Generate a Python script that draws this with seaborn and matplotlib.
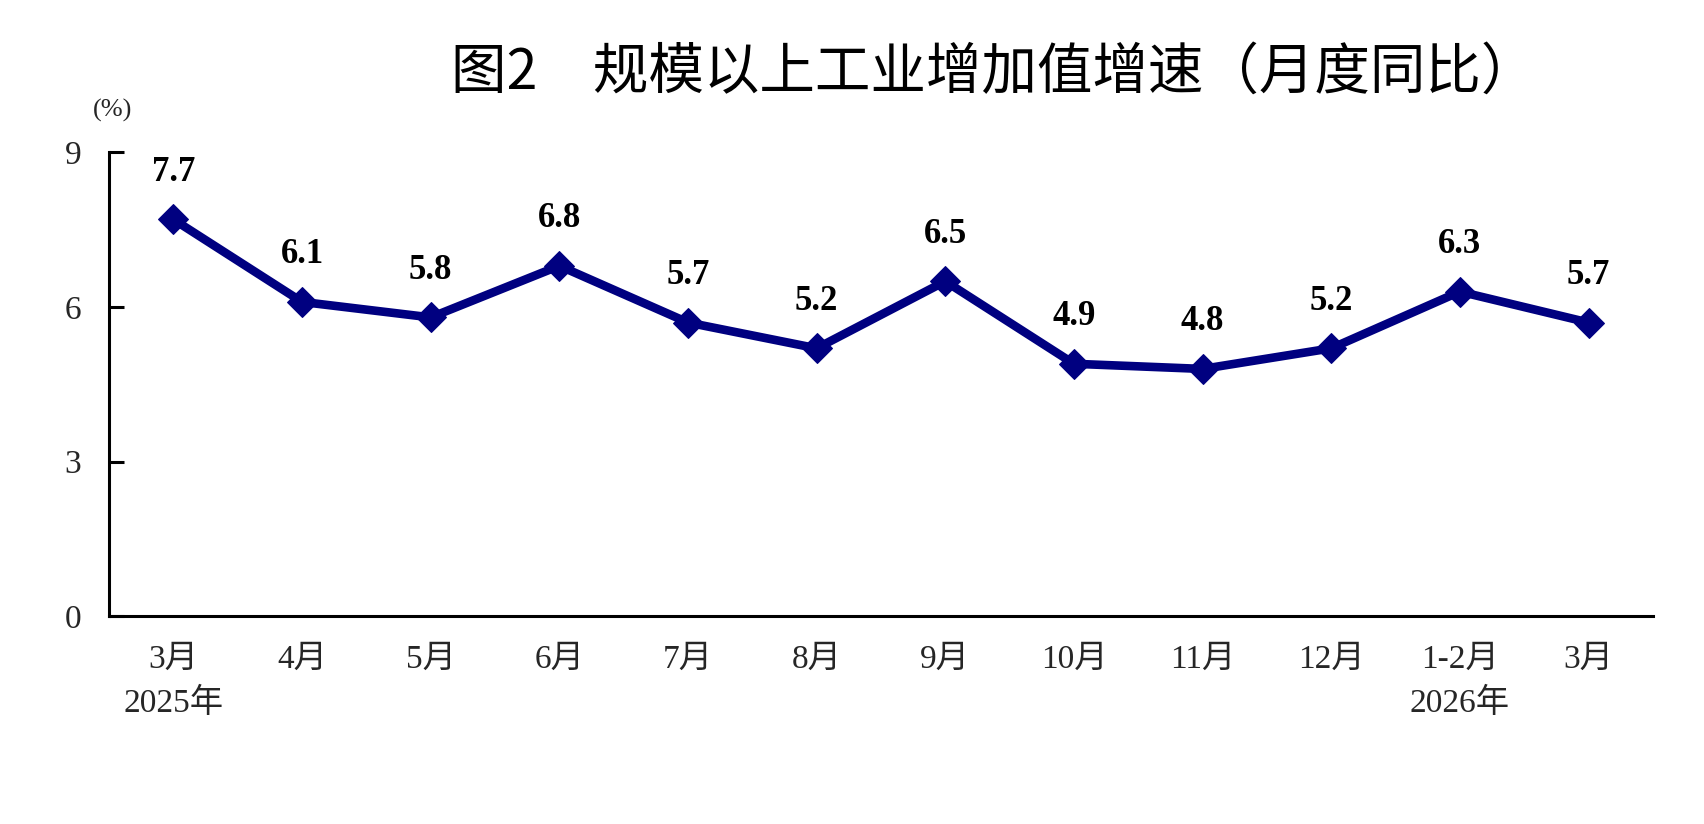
import numpy as np
import pandas as pd
import matplotlib
matplotlib.use('Agg')
import matplotlib.pyplot as plt
import seaborn as sns

# Data
months = ['3月\n2025年', '4月', '5月', '6月', '7月', '8月', '9月',
          '10月', '11月', '12月', '1-2月\n2026年', '3月']
growth = [7.7, 6.1, 5.8, 6.8, 5.7, 5.2, 6.5, 4.9, 4.8, 5.2, 6.3, 5.7]
y_ticks = [0, 3, 6, 9]

df = pd.DataFrame({'month': months, 'growth': growth})

sns.set_style('white')
plt.rcParams['font.family'] = ['Liberation Serif', 'Noto Sans CJK SC', 'DejaVu Sans']

fig = plt.figure(figsize=(17.04, 8.24), dpi=100)
ax = fig.add_axes([0.064, 0.252, 0.906, 0.563])

sns.lineplot(data=df, x='month', y='growth', sort=False, ax=ax,
             color='#000080', linewidth=6.2, marker='D', markersize=15,
             markeredgecolor='#000080')

# Value labels above each point
for i, v in enumerate(df['growth']):
    ax.annotate(f'{v:.1f}', (i, v), xytext=(0, 22), textcoords='offset points',
                ha='center', va='bottom', fontsize=25, fontweight='bold',
                family='Liberation Serif', color='black')

ax.set_xlim(-0.5, len(months) - 0.5)
ax.set_ylim(0, 9)
ax.set_yticks(y_ticks)
ax.set_xticks(range(len(months)))
ax.set_xticklabels(months, fontsize=24, linespacing=1.55)
ax.set_xticks(np.arange(0.5, len(months), 1), minor=True)
ax.tick_params(axis='x', which='major', length=0, pad=20)
ax.tick_params(axis='x', which='minor', direction='in', length=11, width=2.2, color='black')
ax.tick_params(axis='y', direction='in', length=11, width=2.2, color='black',
               labelsize=24, pad=20, left=True)
ax.set_xlabel('')
ax.set_ylabel('')

sns.despine(ax=ax)
for side in ['left', 'bottom']:
    ax.spines[side].set_linewidth(2.2)
    ax.spines[side].set_color('black')

fig.text(0.066, 0.866, '(%)', fontsize=19, ha='center', va='center',
         family=['Liberation Serif', 'Noto Sans CJK SC'])
fig.text(0.583, 0.912, '图2　规模以上工业增加值增速（月度同比）', fontsize=40,
         ha='center', va='center', family=['Noto Sans CJK SC', 'DejaVu Sans'],
         fontweight='medium', color='black')

fig.savefig('out.png', dpi=100, facecolor='white')
